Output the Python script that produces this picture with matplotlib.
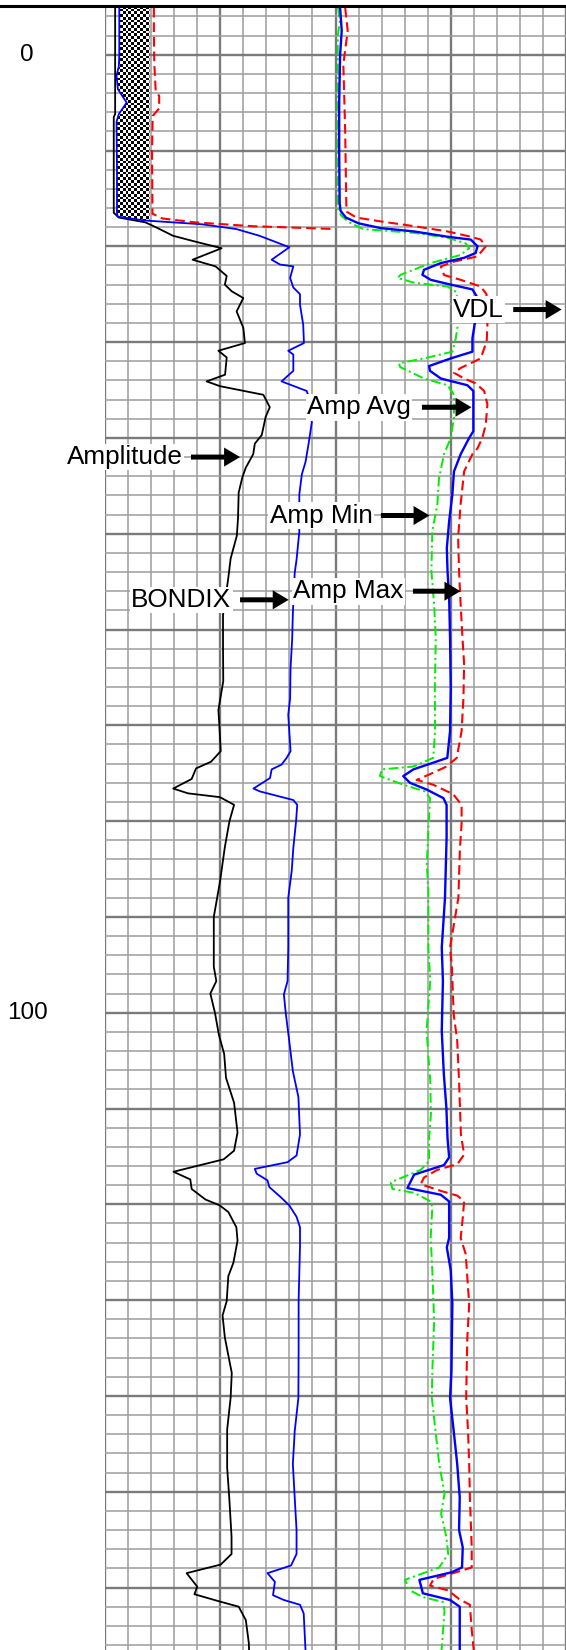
import numpy as np
import matplotlib
matplotlib.use("Agg")
import matplotlib.pyplot as plt
from matplotlib.lines import Line2D

plt.rcParams['font.family'] = ['Liberation Sans', 'DejaVu Sans']
plt.rcParams['lines.scale_dashes'] = False

# depth labels on the left
depth_ticks = [0, 100]
depth_labels = ["0", "100"]

# curves: (depth, value in grid divisions 0..20; track 1 = 0..10, track 2 = 10..20)
amplitude = np.array([
    (-4.9, 0.44), (6.2, 0.44), (6.5, 0.38), (16.5, 0.38), (17.0, 0.6), (17.5, 1.75),
    (18.0, 2.2), (18.9, 2.95), (19.5, 3.9), (20.2, 5.06), (21.4, 3.8), (22.1, 4.8),
    (23.1, 5.28), (24.0, 5.2), (24.7, 5.5), (25.4, 6.0), (26.8, 5.71), (28.5, 6.0),
    (30.1, 6.07), (30.9, 4.92), (31.6, 5.28), (33.4, 5.21), (34.1, 4.41), (34.6, 4.99),
    (35.5, 6.87), (36.8, 7.15), (37.8, 6.97), (39.7, 6.8), (40.6, 6.5), (41.7, 6.43),
    (43.1, 6.11), (44.1, 5.96), (45.7, 5.8), (48.4, 5.77), (50.2, 5.72), (52.6, 5.45),
    (54.6, 5.35), (58.5, 5.12), (61.5, 5.12), (65.4, 5.13), (68.4, 4.92), (69.9, 4.96),
    (72.7, 5.02), (73.8, 4.6), (74.5, 3.95), (75.6, 3.76), (76.6, 2.96), (77.1, 3.6),
    (77.5, 4.99), (78.3, 5.6), (80.0, 5.4), (82.7, 5.2), (86.3, 4.99), (90.0, 4.72),
    (92.0, 4.72), (95.2, 4.72), (96.7, 4.83), (98.0, 4.57), (100.0, 4.77), (102.3, 4.94),
    (104.3, 5.17), (106.8, 5.25), (109.4, 5.6), (112.5, 5.75), (114.4, 5.6), (115.3, 5.15),
    (116.6, 2.97), (117.4, 3.7), (118.4, 3.76), (119.5, 4.36), (120.1, 4.97), (120.8, 5.35),
    (122.4, 5.7), (123.8, 5.75), (126.1, 5.57), (127.5, 5.35), (130.1, 5.28), (131.6, 5.1),
    (133.9, 5.2), (137.6, 5.5), (140.2, 5.45), (143.5, 5.3), (147.5, 5.3), (150.6, 5.39),
    (154.7, 5.49), (156.5, 5.49), (157.6, 5.02), (158.5, 3.54), (159.9, 4.0), (160.7, 3.88),
    (161.5, 5.04), (162.0, 5.8), (163.4, 6.11), (165.8, 6.24), (166.6, 6.25),
])

bondix = np.array([
    (-4.9, 0.62), (0.0, 0.62), (1.2, 0.6), (2.2, 0.5), (3.6, 0.56), (5.0, 0.94),
    (6.2, 0.6), (7.0, 0.5), (12.0, 0.52), (16.5, 0.52), (16.9, 0.55), (17.3, 1.7),
    (17.7, 4.2), (18.2, 5.7), (18.9, 6.7), (20.1, 8.0), (21.4, 7.23), (21.9, 7.59),
    (22.1, 8.17), (23.3, 8.03), (24.3, 8.17), (25.0, 8.46), (26.1, 8.46), (28.2, 8.6),
    (30.1, 8.63), (30.9, 7.95), (31.3, 8.17), (33.0, 8.17), (34.1, 7.66), (35.1, 8.75),
    (36.5, 8.95), (38.4, 8.97), (40.5, 8.84), (42.5, 8.7), (43.8, 8.54), (45.9, 8.43),
    (49.8, 8.43), (52.7, 8.31), (54.1, 8.23), (58.3, 8.15), (61.0, 8.12), (64.0, 8.05),
    (67.2, 8.03), (68.9, 7.95), (72.7, 8.05), (73.4, 7.88), (74.1, 7.66), (74.6, 7.23),
    (75.5, 7.16), (76.6, 6.44), (76.9, 6.72), (77.8, 8.17), (78.3, 8.34), (80.0, 8.29),
    (82.8, 8.17), (85.2, 8.1), (88.0, 7.95), (93.2, 7.95), (96.7, 7.92), (98.1, 7.76),
    (100.0, 7.84), (102.9, 7.99), (106.1, 8.15), (108.8, 8.39), (112.7, 8.46), (114.9, 8.31),
    (115.6, 7.92), (116.3, 6.5), (116.8, 6.58), (117.5, 7.05), (118.2, 7.13), (119.2, 7.6),
    (120.1, 7.99), (121.3, 8.31), (122.4, 8.46), (124.4, 8.46), (130.0, 8.4), (135.0, 8.4),
    (140.2, 8.39), (143.7, 8.23), (147.1, 8.15), (150.6, 8.23), (154.0, 8.31), (156.5, 8.31),
    (157.7, 8.07), (158.5, 7.05), (159.4, 7.37), (160.8, 7.29), (161.3, 7.76), (161.8, 8.46),
    (162.7, 8.62), (166.6, 8.7),
])

amp_max_wrap = np.array([
    (-4.9, 2.12), (-2.5, 2.12), (1.0, 2.14), (3.8, 2.2), (4.3, 2.35), (5.6, 2.35),
    (6.4, 2.07), (10.0, 2.04), (16.6, 2.06), (17.1, 2.5), (17.5, 3.9), (17.9, 6.4),
    (18.2, 10.0),
])

amp_avg = np.array([
    (-4.9, 10.2), (-2.5, 10.27), (0.0, 10.2), (5.0, 10.16), (10.0, 10.16), (15.5, 10.18),
    (16.3, 10.22), (17.0, 10.45), (17.6, 11.0), (18.1, 11.96), (18.45, 13.41), (19.0, 14.86),
    (19.3, 15.87), (20.0, 16.16), (20.7, 16.08), (21.2, 15.58), (21.75, 14.57), (22.45, 13.84),
    (22.97, 13.77), (23.5, 14.13), (24.0, 15.0), (24.5, 15.94), (25.2, 16.12), (27.5, 16.08),
    (29.6, 15.94), (31.0, 15.94), (31.7, 15.0), (32.5, 14.06), (33.0, 14.1), (33.8, 14.57),
    (34.5, 15.72), (35.1, 15.98), (39.3, 15.98), (40.0, 15.8), (41.7, 15.43), (43.5, 15.14),
    (45.9, 15.07), (48.7, 14.93), (51.5, 14.83), (53.9, 14.86), (56.7, 14.93), (60.9, 14.97),
    (66.1, 15.0), (70.6, 14.97), (73.4, 14.85), (73.9, 14.24), (74.6, 13.38), (75.3, 12.94),
    (76.0, 13.23), (76.7, 13.95), (77.6, 14.68), (78.3, 14.82), (81.7, 14.82), (88.0, 14.75),
    (93.2, 14.61), (96.7, 14.66), (101.9, 14.61), (106.4, 14.7), (109.9, 14.81), (113.1, 14.86),
    (115.1, 14.93), (115.9, 14.71), (116.9, 13.41), (118.3, 13.12), (119.0, 14.57), (119.7, 14.93),
    (123.5, 14.93), (124.5, 14.83), (126.9, 15.0), (130.4, 15.07), (137.4, 15.03), (140.2, 14.97),
    (143.7, 15.13), (147.1, 15.28), (150.6, 15.39), (154.0, 15.36), (155.8, 15.52), (157.9, 15.49),
    (158.4, 15.05), (159.2, 13.64), (160.6, 13.79), (161.3, 14.97), (162.0, 15.39), (166.6, 15.39),
])

amp_min = np.array([
    (-4.9, 10.11), (-3.5, 10.19), (-2.0, 10.1), (5.0, 10.1), (10.0, 10.1), (16.1, 10.11),
    (16.8, 10.25), (17.5, 10.6), (18.2, 11.2), (18.6, 13.4), (19.1, 14.86), (19.7, 15.65),
    (20.2, 15.8), (20.9, 15.43), (21.75, 14.13), (22.97, 12.83), (23.3, 12.69), (23.8, 13.41),
    (24.2, 14.86), (24.8, 15.26), (26.8, 15.3), (28.0, 15.32), (29.6, 15.22), (31.0, 15.07),
    (31.7, 13.84), (32.2, 12.76), (32.6, 12.8), (33.8, 13.84), (34.5, 14.86), (35.5, 15.14),
    (37.9, 15.14), (40.0, 15.0), (41.7, 14.71), (44.2, 14.49), (46.9, 14.42), (49.7, 14.2),
    (53.9, 14.16), (57.4, 14.28), (60.9, 14.35), (66.1, 14.31), (70.6, 14.32), (73.4, 14.24),
    (74.3, 13.38), (74.6, 12.0), (75.3, 11.93), (76.2, 12.94), (76.9, 13.88), (77.6, 14.1),
    (81.0, 14.03), (84.5, 13.96), (87.3, 14.03), (93.2, 14.03), (96.7, 14.11), (101.9, 13.95),
    (107.1, 14.11), (110.6, 14.14), (113.1, 14.06), (115.5, 14.06), (116.4, 13.7), (117.7, 12.4),
    (118.4, 12.47), (118.8, 13.41), (119.7, 14.13), (120.3, 14.2), (123.5, 14.13), (126.9, 14.2),
    (132.2, 14.28), (137.4, 14.2), (140.2, 14.18), (143.7, 14.34), (147.1, 14.5), (150.2, 14.73),
    (152.3, 14.58), (154.7, 14.81), (156.5, 14.89), (157.9, 14.5), (159.2, 13.01), (160.3, 13.24),
    (161.0, 13.79), (161.5, 14.66), (162.4, 14.73), (166.6, 14.6),
])

amp_max = np.array([
    (-4.9, 10.42), (-2.5, 10.53), (1.0, 10.34), (8.0, 10.42), (15.8, 10.47), (16.4, 10.5),
    (17.0, 10.9), (17.4, 11.96), (17.9, 13.41), (18.45, 14.86), (19.0, 15.87), (19.3, 16.3),
    (20.0, 16.52), (21.05, 16.16), (21.6, 15.14), (22.1, 14.57), (23.0, 14.71), (23.5, 15.43),
    (24.2, 16.3), (25.0, 16.55), (28.2, 16.59), (29.9, 16.56), (31.7, 16.3), (32.2, 15.87),
    (32.7, 15.43), (33.2, 15.14), (33.8, 15.58), (34.3, 16.08), (35.1, 16.45), (36.5, 16.59),
    (38.6, 16.52), (40.0, 16.37), (41.1, 16.16), (41.7, 15.94), (43.5, 15.58), (46.9, 15.43),
    (50.4, 15.32), (53.9, 15.36), (57.4, 15.43), (60.9, 15.51), (63.6, 15.58), (67.2, 15.55),
    (70.6, 15.47), (73.4, 15.26), (74.3, 14.82), (75.1, 14.1), (75.7, 13.52), (76.2, 14.24),
    (77.2, 15.11), (78.3, 15.47), (80.3, 15.47), (82.8, 15.4), (88.0, 15.33), (93.2, 14.97),
    (95.3, 15.05), (100.2, 15.13), (102.9, 15.28), (107.1, 15.36), (112.7, 15.44), (114.8, 15.58),
    (115.8, 15.29), (116.4, 14.42), (117.2, 13.84), (117.9, 13.7), (118.6, 14.57), (119.1, 15.29),
    (119.7, 15.58), (121.7, 15.51), (123.5, 15.43), (125.2, 15.65), (128.7, 15.75), (130.4, 15.8),
    (133.9, 15.72), (137.4, 15.69), (140.2, 15.67), (143.7, 15.75), (147.1, 15.8), (150.6, 15.83),
    (155.8, 15.91), (157.9, 15.91), (158.2, 15.52), (159.1, 14.26), (159.8, 14.1), (160.3, 14.89),
    (161.2, 15.36), (161.8, 15.83), (164.4, 15.91), (166.6, 16.0),
])

# annotations: text, text centre (value, depth), arrow tail value, arrow tip value
label_names = ["VDL", "Amp Avg", "Amplitude", "Amp Min", "BONDIX", "Amp Max"]
label_pos = [(16.2, 26.6), (11.02, 36.8), (0.85, 42.0), (9.38, 48.1), (3.31, 56.9), (10.55, 56.0)]
arrow_tail = [17.71, 13.75, 3.73, 11.97, 5.86, 13.36]
arrow_tip = [19.81, 15.9, 5.86, 14.08, 7.97, 15.42]

checker_edge = 1.93

fig = plt.figure(figsize=(5.66, 16.5), dpi=100)
W, H = 566, 1650
ax = fig.add_axes([105 / W, 0, 461 / W, 1 - 8 / H])

ax.set_xticks(np.arange(0, 21, 5))
ax.set_xticks(np.arange(0, 21, 1), minor=True)
ax.set_yticks(np.arange(0, 170, 10))
ax.set_yticks(np.arange(-4, 168, 2), minor=True)
ax.tick_params(which='both', length=0, labelbottom=False, labelleft=False)
for s in ax.spines.values():
    s.set_visible(False)
ax.set_axisbelow(True)
ax.grid(which='minor', color='#9c9c9c', lw=1.1)
ax.grid(which='major', color='#7a7a7a', lw=1.7)

# checkered fill between BONDIX and the fixed edge
bd, bu = bondix.T
board = np.add.outer(np.arange(80), np.arange(16)) % 2
im = ax.imshow(board, cmap='gray', extent=(0, 2, 18, -5), interpolation='nearest',
               aspect='auto', zorder=1.5)
poly = ax.fill_betweenx(bd, bu, checker_edge, where=bu < checker_edge, interpolate=True,
                        facecolor='none', edgecolor='none')
im.set_clip_path(poly.get_paths()[0], transform=ax.transData)

d, u = amplitude.T
ax.plot(u, d, color='black', lw=1.3, zorder=3)
ax.plot(bu, bd, color='#0000ff', lw=1.3, zorder=3)
d, u = amp_max_wrap.T
ax.plot(u, d, color='#ff0000', lw=1.5, dashes=(7, 3.5), zorder=3)
d, u = amp_min.T
ax.plot(u, d, color='#00ee00', lw=1.4, dashes=(7, 2.5, 1.5, 2.5), zorder=3)
d, u = amp_max.T
ax.plot(u, d, color='#ff0000', lw=1.5, dashes=(7, 3.5), zorder=3)
d, u = amp_avg.T
ax.plot(u, d, color='#0000ff', lw=1.7, zorder=3.2)

ax.set_xlim(0, 20)
ax.set_ylim(166.52, -4.875)

for name, (tx, ty), t0, t1 in zip(label_names, label_pos, arrow_tail, arrow_tip):
    ax.text(tx, ty, name, ha='center', va='center', fontsize=18.8, color='black',
            bbox=dict(facecolor='white', edgecolor='none', pad=1.0), zorder=5, clip_on=False)
    ax.annotate('', xy=(t1, ty), xytext=(t0, ty),
                arrowprops=dict(arrowstyle='simple,head_length=1.15,head_width=1.37,tail_width=0.36',
                                mutation_scale=10, fc='black', ec='none', shrinkA=0, shrinkB=0),
                zorder=6, annotation_clip=False)

for dt, lab in zip(depth_ticks, depth_labels):
    ax.text(-3.38, dt, lab, ha='center', va='center', fontsize=17.5, color='black', clip_on=False)

# top border of the log header
fig.add_artist(Line2D([0, 1], [1 - 5.5 / H, 1 - 5.5 / H], transform=fig.transFigure,
                      color='black', lw=2.2))

fig.savefig('out.png', dpi=100, facecolor='white')
